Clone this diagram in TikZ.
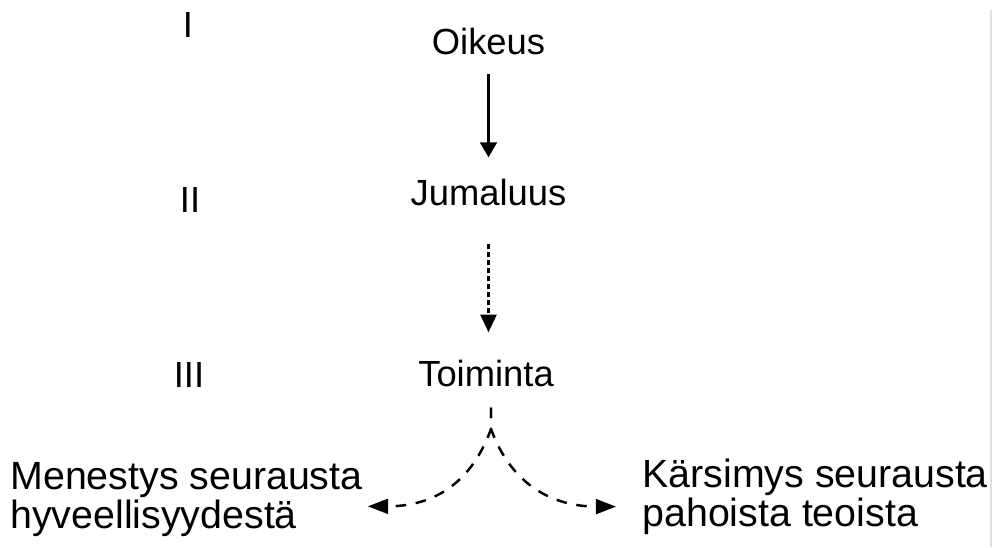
\documentclass[tikz,border=0pt]{standalone}
\usepackage{fontspec}
\setmainfont{Liberation Sans}
\usetikzlibrary{arrows.meta}

\begin{document}
\begin{tikzpicture}[x=0.02cm, y=0.02cm,
        taso/.style={font=\fontsize{20.7}{24}\selectfont, inner sep=0pt},
        tulos/.style={font=\fontsize{22.4}{17}\selectfont, inner sep=0pt, align=left},
        katko/.style={line width=1.4pt, dash pattern=on 6pt off 5.5pt},
        karki/.style={-{Triangle[length=11.5pt,width=8.5pt]}}]
    \useasboundingbox (0,0) rectangle (999,-547);

    % tasojen numerot
    \node[taso, anchor=base] (t1) at (188,-38) {I};
    \node[taso, anchor=base] (t2) at (190,-212) {II};
    \node[taso, anchor=base] (t3) at (189,-387) {III};

    % keskimmainen ketju
    \node[taso, anchor=base] (oikeus) at (488.5,-55) {Oikeus};
    \node[taso, anchor=base] (jumaluus) at (488.5,-205) {Jumaluus};
    \node[taso, anchor=base] (toiminta) at (486,-386) {Toiminta};

    % seuraukset (base = alemman rivin perusviiva)
    \node[tulos, anchor=base west] (menestys) at (10,-528) {Menestys seurausta\\hyveellisyydestä};
    \node[tulos, anchor=base west] (karsimys) at (642,-526) {Kärsimys seurausta\\pahoista teoista};

    \coordinate (haara) at (491,-429);

    % nuolet
    \draw[line width=1.4pt, -{Triangle[length=8.5pt,width=9.5pt]}, shorten <=0.36cm, shorten >=0.42cm]
        (oikeus.south) -- (jumaluus.north);
    \draw[line width=1.6pt, dash pattern=on 2.8pt off 1.8pt, -{Triangle[length=10pt,width=9pt]},
        shorten <=0.76cm, shorten >=0.54cm]
        (jumaluus.south) -- (jumaluus.south |- toiminta.north);
    \draw[katko, karki, shorten <=0.42cm, shorten >=0.1cm]
        (toiminta.south -| haara) -- (haara) to[out=-110, in=0, looseness=1.1] ([yshift=-0.14cm]menestys.east);
    \draw[katko, karki, shorten <=0.42cm, shorten >=0.52cm]
        (toiminta.south -| haara) -- (haara) to[out=-70, in=180, looseness=1.1] ([yshift=-0.2cm]karsimys.west);

    % reunaviiva
    \draw[black!12, line width=0.6pt] (991,-10) -- (991,-547);
\end{tikzpicture}
\end{document}
